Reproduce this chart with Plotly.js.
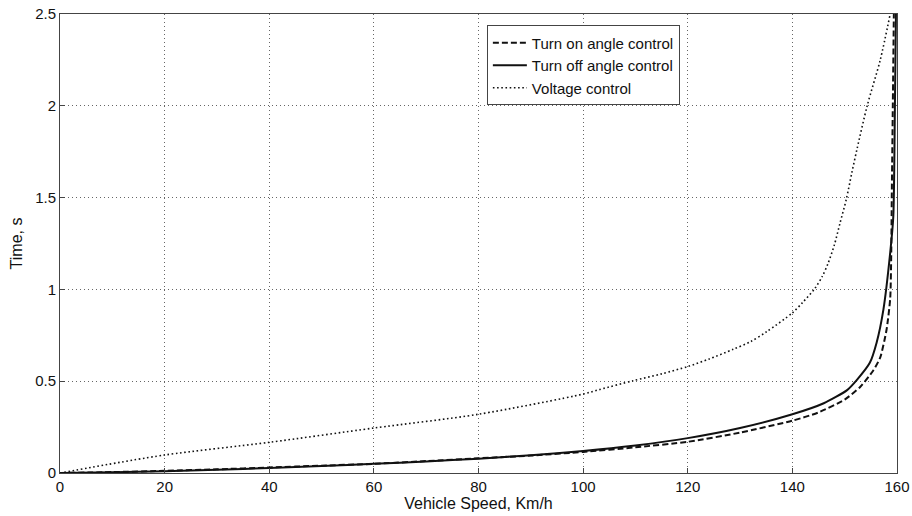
<!DOCTYPE html>
<html><head><meta charset="utf-8">
<script src="https://cdn.plot.ly/plotly-3.0.1.min.js"></script>
<style>body{margin:0;background:#fff}#c{width:912px;height:516px}</style>
</head><body><div id="c"></div>
<script>
const speedOn = [0,10,20,30,40,50,60,70,80,90,100,110,120,130,140,145,150,153,155.5,156.8,158,158.7,158.9,159.0,159.2,159.4];
const timeOn  = [0,0.005,0.012,0.02,0.03,0.04,0.05,0.065,0.08,0.095,0.115,0.14,0.17,0.22,0.285,0.33,0.40,0.47,0.56,0.63,0.78,0.95,1.2,1.5,2.0,2.5];
const speedOff = [0,10,20,30,40,50,60,70,80,90,100,110,120,130,140,146,150.4,152.3,154.8,156.1,157.4,158.7,159.3,159.6,159.8];
const timeOff  = [0,0.004,0.01,0.018,0.027,0.038,0.05,0.063,0.078,0.097,0.12,0.15,0.19,0.245,0.32,0.38,0.45,0.506,0.6,0.71,0.89,1.2,1.4,2.0,2.5];
const speedV = [0,20,40,60,80,100,103.2,109.6,115,120,124,128.7,132,135.1,140,142,144.3,145.7,146.8,148.0,149.1,150.3,151.4,152.4,154.3,156.8,158.7];
const timeV  = [0,0.098,0.167,0.245,0.32,0.43,0.455,0.503,0.54,0.58,0.62,0.674,0.715,0.77,0.872,0.93,1.005,1.07,1.14,1.24,1.36,1.49,1.64,1.77,2.0,2.25,2.5];
const names = ['Turn on angle control','Turn off angle control','Voltage control'];

const traces = [
  {x: speedOn, y: timeOn, name: names[0], mode:'lines', line:{color:'#111', width:2, dash:'6px,3px', shape:'spline', smoothing:0.6}},
  {x: speedOff, y: timeOff, name: names[1], mode:'lines', line:{color:'#111', width:2, dash:'solid', shape:'spline', smoothing:0.6}},
  {x: speedV, y: timeV, name: names[2], mode:'lines', line:{color:'#111', width:1.6, dash:'1.6px,2.6px', shape:'spline', smoothing:0.8}}
];
const axisCommon = {
  showline:true, mirror:true, linecolor:'#444', linewidth:1,
  showgrid:true, gridcolor:'#666', griddash:'1px,3px', gridwidth:1,
  ticks:'inside', ticklen:5, tickcolor:'#444', zeroline:false,
  tickfont:{family:'Liberation Sans, Arial, sans-serif', size:15, color:'#111'}
};
const layout = {
  width:912, height:516,
  margin:{l:60, r:15, t:14, b:43},
  paper_bgcolor:'#fff', plot_bgcolor:'#fff',
  showlegend:true,
  xaxis: Object.assign({}, axisCommon, {range:[0,160], tickvals:[0,20,40,60,80,100,120,140,160],
    title:{text:'Vehicle Speed, Km/h', standoff:0, font:{family:'Liberation Sans, Arial, sans-serif', size:16, color:'#111'}}}),
  yaxis: Object.assign({}, axisCommon, {range:[0,2.5], tickvals:[0,0.5,1,1.5,2,2.5],
    title:{text:'Time, s', standoff:8, font:{family:'Liberation Sans, Arial, sans-serif', size:16, color:'#111'}}}),
  legend:{x:0.510, y:0.975, xanchor:'left', yanchor:'top', bgcolor:'#fff', bordercolor:'#444', borderwidth:1,
    font:{family:'Liberation Sans, Arial, sans-serif', size:15, color:'#111'}, tracegroupgap:0, itemwidth:34}
};
Plotly.newPlot('c', traces, layout, {staticPlot:true});
</script></body></html>
